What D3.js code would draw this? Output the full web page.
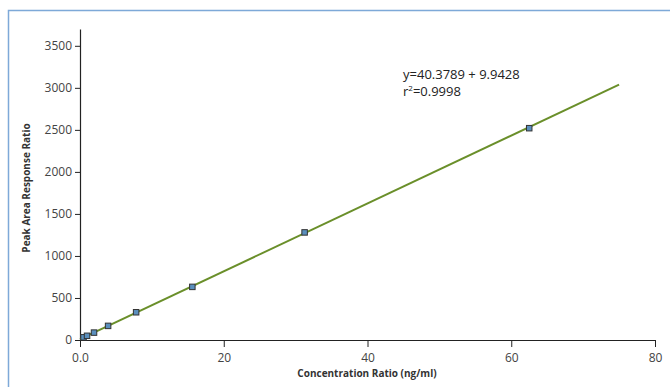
<!DOCTYPE html>
<html>
<head>
<meta charset="utf-8">
<script src="https://cdn.jsdelivr.net/npm/d3@7"></script>
<style>
  html, body { margin: 0; padding: 0; background: #fff; }
  svg { display: block; font-family: "Open Sans", "Noto Sans", sans-serif; }
</style>
</head>
<body>
<svg id="chart" width="670" height="387"></svg>
<script>
// Calibration standards: concentration ratio (ng/ml) vs. peak area response ratio
const concentration = [0.49, 0.98, 1.95, 3.91, 7.81, 15.63, 31.25, 62.5];
const response = [32, 50, 88, 168, 330, 632, 1280, 2520];

// Fitted regression line
const intercept = 9.9428;
const slope = 40.3789;
const fitRange = [0, 75];
const equationText = "y=40.3789 + 9.9428";
const r2Text = "=0.9998";

const xTicks = [0, 20, 40, 60, 80];
const xTickLabels = ["0.0", "20", "40", "60", "80"];
const yTicks = [0, 500, 1000, 1500, 2000, 2500, 3000, 3500];

const svg = d3.select("#chart");

// Frame around the figure
svg.append("path")
  .attr("d", "M8.5,387 L8.5,10.5 L670,10.5")
  .attr("fill", "none")
  .attr("stroke", "#7ea9d8")
  .attr("stroke-width", 1.5);

const x = d3.scaleLinear().domain([0, 80]).range([80, 655]);
const y = d3.scaleLinear().domain([0, 3700]).range([340, 29]);

// Axes
const xAxis = d3.axisBottom(x)
  .tickValues(xTicks)
  .tickFormat((d, i) => xTickLabels[i])
  .tickSize(7)
  .tickSizeOuter(0)
  .tickPadding(6);

const yAxis = d3.axisLeft(y)
  .tickValues(yTicks)
  .tickFormat(d3.format("d"))
  .tickSize(5)
  .tickSizeOuter(0)
  .tickPadding(3);

const gx = svg.append("g").attr("transform", `translate(0,${y(0)})`).call(xAxis);
const gy = svg.append("g").attr("transform", `translate(${x(0)},0)`).call(yAxis);

[gx, gy].forEach(g => {
  g.select(".domain").attr("stroke", "#222").attr("stroke-width", 1.2);
  g.selectAll(".tick line").attr("stroke", "#222").attr("stroke-width", 1);
  g.selectAll(".tick text")
    .attr("fill", "#444")
    .attr("font-size", 12)
    .attr("font-family", "'Open Sans', 'Noto Sans', sans-serif");
});

// Axis titles
svg.append("text")
  .attr("x", 367)
  .attr("y", 377)
  .attr("text-anchor", "middle")
  .attr("font-size", 10)
  .attr("font-weight", "bold")
  .attr("fill", "#333")
  .text("Concentration Ratio (ng/ml)");

svg.append("text")
  .attr("transform", "translate(30,188) rotate(-90)")
  .attr("text-anchor", "middle")
  .attr("font-size", 10)
  .attr("font-weight", "bold")
  .attr("fill", "#333")
  .text("Peak Area Response Ratio");

// Regression line
const line = d3.line().x(d => x(d)).y(d => y(intercept + slope * d));
svg.append("path")
  .datum(fitRange)
  .attr("d", line)
  .attr("fill", "none")
  .attr("stroke", "#6a8f2a")
  .attr("stroke-width", 2);

// Data markers
const s = 5.5;
svg.append("g").selectAll("rect")
  .data(concentration.map((c, i) => [c, response[i]]))
  .join("rect")
  .attr("x", d => x(d[0]) - s / 2)
  .attr("y", d => y(d[1]) - s / 2)
  .attr("width", s)
  .attr("height", s)
  .attr("fill", "#5a8fbd")
  .attr("stroke", "#333")
  .attr("stroke-width", 1);

// Equation annotation
const ann = svg.append("text")
  .attr("font-size", 13)
  .attr("fill", "#222");
ann.append("tspan").attr("x", 403).attr("y", 79).text(equationText);
const r2 = ann.append("tspan").attr("x", 403).attr("y", 96);
r2.append("tspan").text("r");
r2.append("tspan").attr("font-size", 8).attr("dy", -5).text("2");
r2.append("tspan").attr("dy", 5).text(r2Text);
</script>
</body>
</html>
